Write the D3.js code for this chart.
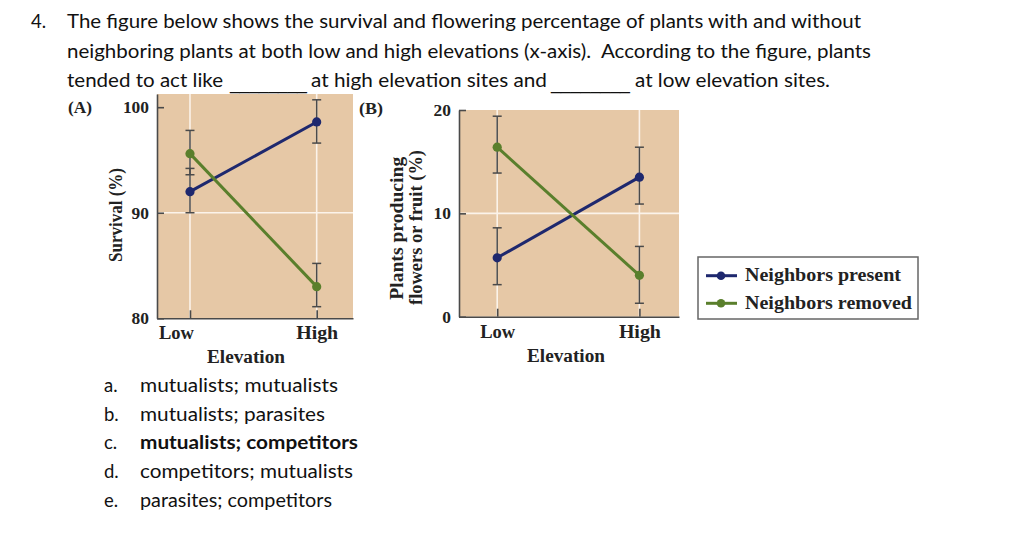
<!DOCTYPE html>
<html><head><meta charset="utf-8">
<script src="https://cdn.jsdelivr.net/npm/d3@7"></script>
<style>
html,body{margin:0;padding:0;background:#fff;}
svg text{white-space:pre;}
</style></head>
<body>
<svg id="c" width="1024" height="538"></svg>
<script>
// ---------- data ----------
const elevations = ["Low", "High"];
const seriesNames = ["Neighbors present", "Neighbors removed"];

const survivalPresent   = [92.0, 98.6];
const survivalPresentLo = [90.0, 96.6];
const survivalPresentHi = [94.2, 100.7];
const survivalRemoved   = [95.6, 83.0];
const survivalRemovedLo = [93.6, 81.1];
const survivalRemovedHi = [97.8, 85.2];

const flowerPresent   = [5.7, 13.5];
const flowerPresentLo = [3.1, 10.9];
const flowerPresentHi = [8.6, 16.4];
const flowerRemoved   = [16.4, 4.0];
const flowerRemovedLo = [13.9, 1.3];
const flowerRemovedHi = [19.4, 6.8];

const survivalTicks = [80, 90, 100];
const flowerTicks = [0, 10, 20];

const questionNumber = "4.";
const questionLine1 = "The figure below shows the survival and flowering percentage of plants with and without";
const questionLine2 = "neighboring plants at both low and high elevations (x-axis).  According to the figure, plants";
const questionLine3 = ["tended to act like", "________", "at high elevation sites and", "________", "at low elevation sites."];
const answerLetters = ["a.", "b.", "c.", "d.", "e."];
const answerTexts = ["mutualists; mutualists", "mutualists; parasites", "mutualists; competitors", "competitors; mutualists", "parasites; competitors"];
const correctAnswer = 2;

// ---------- styles ----------
const BEIGE = "#e6c8a6", BLUE = "#1e286e", GREEN = "#5a7f2c", DARK = "#4a4a4a";
const SERIF = "'Liberation Serif', 'Times New Roman', serif";
const SANS = "Lato, 'Open Sans', sans-serif";
const colors = [BLUE, GREEN];

const svg = d3.select("#c");

// ---------- question text ----------
const q = svg.append("g").attr("font-family", SANS).attr("font-size", 18.5).attr("fill", "#111");
q.append("text").attr("x", 31).attr("y", 28.3).text(questionNumber);
q.append("text").attr("x", 67).attr("y", 28.3).attr("textLength", 794).attr("lengthAdjust", "spacingAndGlyphs").text(questionLine1);
q.append("text").attr("x", 67).attr("y", 57.8).attr("textLength", 804).attr("lengthAdjust", "spacingAndGlyphs").text(questionLine2);
const l3x = [67, 230, 311, 551, 635], l3w = [156, 77, 236, 79, 195];
questionLine3.forEach((t, i) => {
  const blank = t.startsWith("_");
  q.append("text").attr("x", l3x[i]).attr("y", blank ? 88.5 : 87.3)
    .attr("font-family", blank ? "'Liberation Sans', Arial, sans-serif" : null)
    .attr("textLength", l3w[i]).attr("lengthAdjust", "spacingAndGlyphs").text(t);
});

const answerW = [198, 185, 218, 213, 192];
const answerY = [391.5, 420.5, 449.3, 478, 506.5];
answerTexts.forEach((t, i) => {
  q.append("text").attr("x", 104).attr("y", answerY[i]).text(answerLetters[i]);
  q.append("text").attr("x", 140).attr("y", answerY[i])
    .attr("font-weight", i === correctAnswer ? "bold" : "normal")
    .attr("textLength", answerW[i]).attr("lengthAdjust", "spacingAndGlyphs").text(t);
});

// ---------- panel builder ----------
function panel(cfg) {
  const g = svg.append("g");
  const x = d3.scalePoint().domain(elevations).range([cfg.left, cfg.right]).padding(0.2735).align(cfg.align);
  const y = d3.scaleLinear().domain(cfg.domain).range([cfg.bottom, cfg.top]);

  g.append("rect").attr("x", cfg.left).attr("y", cfg.top)
    .attr("width", cfg.right - cfg.left).attr("height", cfg.bottom - cfg.top).attr("fill", BEIGE);

  // white grid
  g.selectAll(".vg").data(elevations).join("line")
    .attr("x1", d => x(d)).attr("x2", d => x(d)).attr("y1", cfg.top).attr("y2", cfg.bottom)
    .attr("stroke", "#fbf3ea").attr("stroke-width", 1.6);
  g.append("line").attr("x1", cfg.left).attr("x2", cfg.right)
    .attr("y1", y(cfg.ticks[1])).attr("y2", y(cfg.ticks[1]))
    .attr("stroke", "#fbf3ea").attr("stroke-width", 1.6);

  // axes
  const ya = g.append("g").attr("transform", `translate(${cfg.left},0)`)
    .call(d3.axisLeft(y).tickValues(cfg.ticks).tickSize(-7).tickSizeOuter(0).tickPadding(8).tickFormat(d3.format("d")));
  const xa = g.append("g").attr("transform", `translate(0,${cfg.bottom})`)
    .call(d3.axisBottom(x).tickSize(-8).tickSizeOuter(0).tickPadding(8));
  [ya, xa].forEach(a => {
    a.select(".domain").attr("stroke", DARK).attr("stroke-width", 1.6);
    a.selectAll(".tick line").attr("stroke", DARK).attr("stroke-width", 1.6);
    a.selectAll("text").attr("font-family", SERIF).attr("font-weight", "bold").attr("fill", "#222");
  });
  ya.selectAll("text").attr("font-size", 17)
    .attr("textLength", d => String(d).length * 8.7).attr("lengthAdjust", "spacingAndGlyphs");
  xa.selectAll("text").attr("font-size", 18.5)
    .attr("dx", d => (d === "Low" ? cfg.lowShift : 0))
    .attr("textLength", d => d === "Low" ? 35 : 42).attr("lengthAdjust", "spacingAndGlyphs");

  g.append("text").attr("x", cfg.elevX).attr("y", cfg.elevY).attr("text-anchor", "middle")
    .attr("font-family", SERIF).attr("font-weight", "bold").attr("font-size", 18.5).attr("fill", "#222")
    .attr("textLength", 78).attr("lengthAdjust", "spacingAndGlyphs").text("Elevation");

  g.append("text").attr("x", cfg.tagX).attr("y", cfg.tagY)
    .attr("font-family", SERIF).attr("font-weight", "bold").attr("font-size", 17).attr("fill", "#222")
    .attr("textLength", 24).attr("lengthAdjust", "spacingAndGlyphs").text(cfg.tag);

  cfg.titles.forEach(t => {
    g.append("text").attr("transform", `translate(${t.x},${t.cy}) rotate(-90)`)
      .attr("text-anchor", "middle").attr("font-family", SERIF).attr("font-weight", "bold")
      .attr("font-size", 18).attr("fill", "#222")
      .attr("textLength", t.w).attr("lengthAdjust", "spacingAndGlyphs").text(t.text);
  });

  // series
  cfg.series.forEach((s, si) => {
    const pts = elevations.map((e, i) => ({ e, v: s.v[i], lo: s.lo[i], hi: s.hi[i] }));
    const eb = g.append("g").attr("stroke", DARK).attr("stroke-width", 1.5);
    pts.forEach(p => {
      eb.append("line").attr("x1", x(p.e)).attr("x2", x(p.e)).attr("y1", y(p.lo)).attr("y2", y(p.hi));
      [p.lo, p.hi].forEach(v => eb.append("line").attr("x1", x(p.e) - 4.5).attr("x2", x(p.e) + 4.5).attr("y1", y(v)).attr("y2", y(v)));
    });
  });
  cfg.series.forEach((s, si) => {
    const pts = elevations.map((e, i) => ({ e, v: s.v[i] }));
    g.append("path").datum(pts)
      .attr("d", d3.line().x(d => x(d.e)).y(d => y(d.v)))
      .attr("fill", "none").attr("stroke", colors[si]).attr("stroke-width", 3);
    g.selectAll(null).data(pts).join("circle")
      .attr("cx", d => x(d.e)).attr("cy", d => y(d.v)).attr("r", 4.6).attr("fill", colors[si]);
  });
}

panel({
  left: 157, right: 353, top: 94, bottom: 318.3, align: 0.476,
  domain: [80, 101.25], ticks: survivalTicks, lowShift: -14,
  elevX: 246, elevY: 363.3, tag: "(A)", tagX: 68, tagY: 113,
  titles: [{ text: "Survival (%)", x: 122, cy: 215, w: 94 }],
  series: [
    { v: survivalPresent, lo: survivalPresentLo, hi: survivalPresentHi },
    { v: survivalRemoved, lo: survivalRemovedLo, hi: survivalRemovedHi }
  ]
});

panel({
  left: 459, right: 679, top: 110, bottom: 316.7, align: 0.491,
  domain: [0, 20], ticks: flowerTicks, lowShift: 0,
  elevX: 566, elevY: 361.7, tag: "(B)", tagX: 359, tagY: 114,
  titles: [
    { text: "Plants producing", x: 403, cy: 228.3, w: 143 },
    { text: "flowers or fruit (%)", x: 422, cy: 227.5, w: 155 }
  ],
  series: [
    { v: flowerPresent, lo: flowerPresentLo, hi: flowerPresentHi },
    { v: flowerRemoved, lo: flowerRemovedLo, hi: flowerRemovedHi }
  ]
});

// ---------- legend ----------
const lg = svg.append("g");
lg.append("rect").attr("x", 698).attr("y", 257).attr("width", 220).attr("height", 62)
  .attr("fill", "#fff").attr("stroke", "#666").attr("stroke-width", 1.5);
const legW = [156, 167];
seriesNames.forEach((n, i) => {
  const cy = 275.7 + i * 27.6;
  lg.append("line").attr("x1", 706).attr("x2", 737).attr("y1", cy).attr("y2", cy)
    .attr("stroke", colors[i]).attr("stroke-width", 3);
  lg.append("circle").attr("cx", 721).attr("cy", cy).attr("r", 4.3).attr("fill", colors[i]);
  lg.append("text").attr("x", 745).attr("y", cy + 5.5)
    .attr("font-family", SERIF).attr("font-weight", "bold").attr("font-size", 18.5).attr("fill", "#222")
    .attr("textLength", legW[i]).attr("lengthAdjust", "spacingAndGlyphs").text(n);
});
</script>
</body></html>
